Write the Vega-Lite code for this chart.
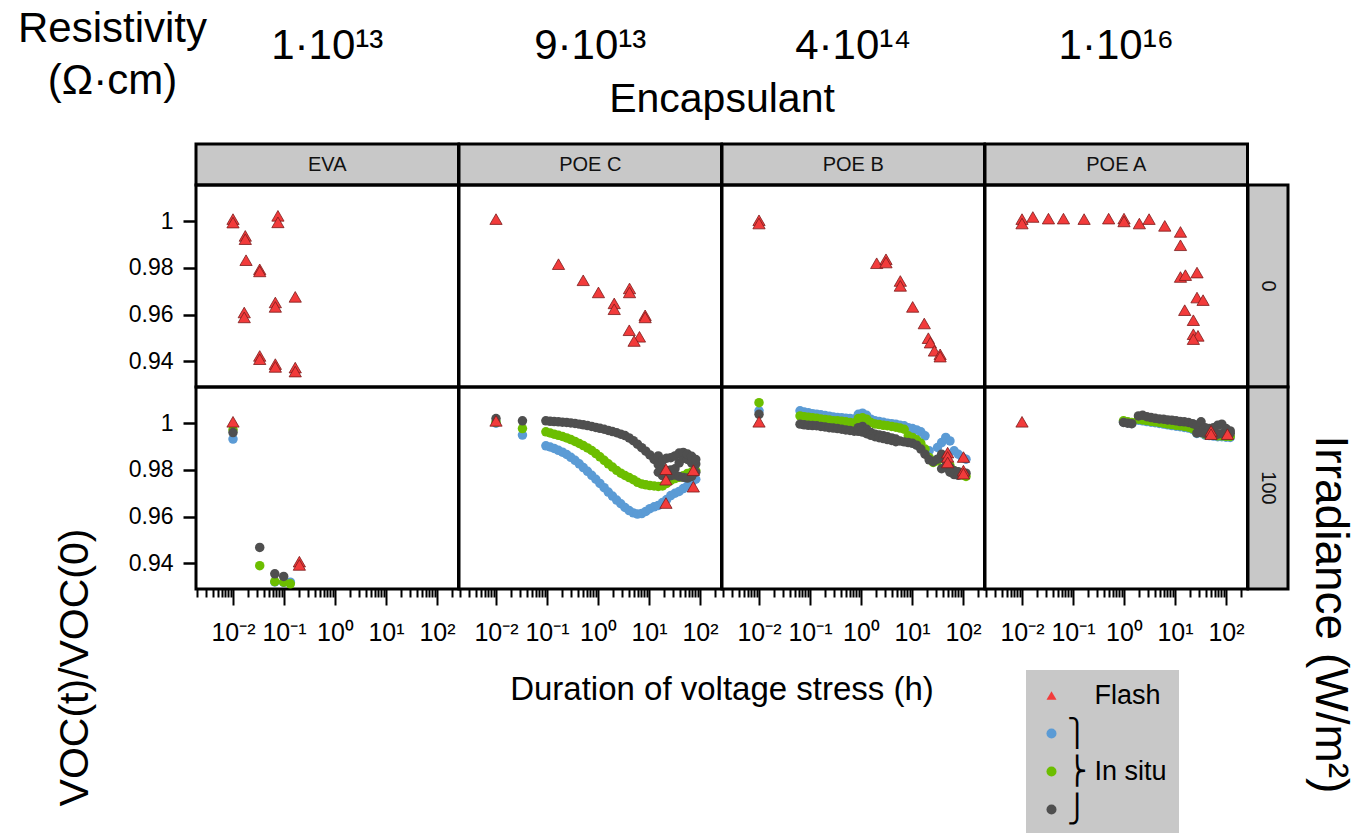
{
  "$schema": "https://vega.github.io/schema/vega-lite/v6.json",
  "background": "white",
  "padding": {"left": 15, "top": 5, "right": 5, "bottom": 0},
  "config": {
    "font": "Liberation Sans",
    "view": {"stroke": null},
    "axis": {"labelFont": "Liberation Sans", "titleFont": "Liberation Sans", "labelColor": "#000", "titleColor": "#000", "titleFontWeight": "normal", "grid": false},
    "title": {"font": "Liberation Sans", "fontWeight": "normal", "color": "#000"},
    "legend": {"labelFont": "Liberation Sans", "labelColor": "#000"}
  },
  "datasets": {
    "pts": [
      {"e":"EVA","i":0,"s":"Flash","t":0.01,"v":1.0009},
      {"e":"EVA","i":0,"s":"Flash","t":0.01,"v":0.9994},
      {"e":"EVA","i":0,"s":"Flash","t":0.076,"v":1.0023},
      {"e":"EVA","i":0,"s":"Flash","t":0.076,"v":0.9995},
      {"e":"EVA","i":0,"s":"Flash","t":0.0174,"v":0.9937},
      {"e":"EVA","i":0,"s":"Flash","t":0.0174,"v":0.9923},
      {"e":"EVA","i":0,"s":"Flash","t":0.018,"v":0.9833},
      {"e":"EVA","i":0,"s":"Flash","t":0.0334,"v":0.9794},
      {"e":"EVA","i":0,"s":"Flash","t":0.0334,"v":0.9785},
      {"e":"EVA","i":0,"s":"Flash","t":0.166,"v":0.9676},
      {"e":"EVA","i":0,"s":"Flash","t":0.0676,"v":0.9652},
      {"e":"EVA","i":0,"s":"Flash","t":0.0676,"v":0.9633},
      {"e":"EVA","i":0,"s":"Flash","t":0.0166,"v":0.9609},
      {"e":"EVA","i":0,"s":"Flash","t":0.0166,"v":0.9588},
      {"e":"EVA","i":0,"s":"Flash","t":0.0334,"v":0.9423},
      {"e":"EVA","i":0,"s":"Flash","t":0.0334,"v":0.9409},
      {"e":"EVA","i":0,"s":"Flash","t":0.0676,"v":0.9388},
      {"e":"EVA","i":0,"s":"Flash","t":0.0676,"v":0.9376},
      {"e":"EVA","i":0,"s":"Flash","t":0.166,"v":0.9373},
      {"e":"EVA","i":0,"s":"Flash","t":0.166,"v":0.9356},

      {"e":"POE C","i":0,"s":"Flash","t":0.01,"v":1.0009},
      {"e":"POE C","i":0,"s":"Flash","t":0.168,"v":0.9816},
      {"e":"POE C","i":0,"s":"Flash","t":0.513,"v":0.9747},
      {"e":"POE C","i":0,"s":"Flash","t":1.02,"v":0.9695},
      {"e":"POE C","i":0,"s":"Flash","t":2.08,"v":0.9648},
      {"e":"POE C","i":0,"s":"Flash","t":2.08,"v":0.9623},
      {"e":"POE C","i":0,"s":"Flash","t":4.15,"v":0.9712},
      {"e":"POE C","i":0,"s":"Flash","t":4.15,"v":0.9695},
      {"e":"POE C","i":0,"s":"Flash","t":8.4,"v":0.9597},
      {"e":"POE C","i":0,"s":"Flash","t":8.4,"v":0.9588},
      {"e":"POE C","i":0,"s":"Flash","t":4.1,"v":0.9533},
      {"e":"POE C","i":0,"s":"Flash","t":6.5,"v":0.9505},
      {"e":"POE C","i":0,"s":"Flash","t":5.1,"v":0.9487},

      {"e":"POE B","i":0,"s":"Flash","t":0.01,"v":1.0004},
      {"e":"POE B","i":0,"s":"Flash","t":0.01,"v":0.999},
      {"e":"POE B","i":0,"s":"Flash","t":2.03,"v":0.982},
      {"e":"POE B","i":0,"s":"Flash","t":3.09,"v":0.9837},
      {"e":"POE B","i":0,"s":"Flash","t":3.09,"v":0.9823},
      {"e":"POE B","i":0,"s":"Flash","t":5.9,"v":0.9744},
      {"e":"POE B","i":0,"s":"Flash","t":5.9,"v":0.9723},
      {"e":"POE B","i":0,"s":"Flash","t":10.3,"v":0.9633},
      {"e":"POE B","i":0,"s":"Flash","t":17.4,"v":0.9562},
      {"e":"POE B","i":0,"s":"Flash","t":20.9,"v":0.9499},
      {"e":"POE B","i":0,"s":"Flash","t":22.9,"v":0.948},
      {"e":"POE B","i":0,"s":"Flash","t":27.5,"v":0.9445},
      {"e":"POE B","i":0,"s":"Flash","t":35.6,"v":0.943},
      {"e":"POE B","i":0,"s":"Flash","t":35.6,"v":0.942},

      {"e":"POE A","i":0,"s":"Flash","t":0.01,"v":1.0009},
      {"e":"POE A","i":0,"s":"Flash","t":0.01,"v":0.999},
      {"e":"POE A","i":0,"s":"Flash","t":0.0163,"v":1.0018},
      {"e":"POE A","i":0,"s":"Flash","t":0.033,"v":1.0011},
      {"e":"POE A","i":0,"s":"Flash","t":0.065,"v":1.0011},
      {"e":"POE A","i":0,"s":"Flash","t":0.165,"v":1.0009},
      {"e":"POE A","i":0,"s":"Flash","t":0.5,"v":1.0011},
      {"e":"POE A","i":0,"s":"Flash","t":1.0,"v":1.0011},
      {"e":"POE A","i":0,"s":"Flash","t":1.0,"v":0.9999},
      {"e":"POE A","i":0,"s":"Flash","t":2.0,"v":0.999},
      {"e":"POE A","i":0,"s":"Flash","t":3.1,"v":1.0009},
      {"e":"POE A","i":0,"s":"Flash","t":6.3,"v":0.998},
      {"e":"POE A","i":0,"s":"Flash","t":12.8,"v":0.9954},
      {"e":"POE A","i":0,"s":"Flash","t":12.8,"v":0.9897},
      {"e":"POE A","i":0,"s":"Flash","t":12.8,"v":0.9761},
      {"e":"POE A","i":0,"s":"Flash","t":16,"v":0.9769},
      {"e":"POE A","i":0,"s":"Flash","t":27,"v":0.978},
      {"e":"POE A","i":0,"s":"Flash","t":27,"v":0.9673},
      {"e":"POE A","i":0,"s":"Flash","t":35.5,"v":0.9662},
      {"e":"POE A","i":0,"s":"Flash","t":15.5,"v":0.9619},
      {"e":"POE A","i":0,"s":"Flash","t":22.9,"v":0.9576},
      {"e":"POE A","i":0,"s":"Flash","t":22.9,"v":0.9516},
      {"e":"POE A","i":0,"s":"Flash","t":28.2,"v":0.9509},
      {"e":"POE A","i":0,"s":"Flash","t":22.9,"v":0.9495},

      {"e":"EVA","i":100,"s":"situ1","t":0.01,"v":0.9932},
      {"e":"EVA","i":100,"s":"situ1","t":0.066,"v":0.932},
      {"e":"EVA","i":100,"s":"situ1","t":0.0985,"v":0.9318},
      {"e":"EVA","i":100,"s":"situ1","t":0.133,"v":0.9319},
      {"e":"EVA","i":100,"s":"situ2","t":0.01,"v":0.9972},
      {"e":"EVA","i":100,"s":"situ2","t":0.0334,"v":0.939},
      {"e":"EVA","i":100,"s":"situ2","t":0.066,"v":0.9322},
      {"e":"EVA","i":100,"s":"situ2","t":0.0985,"v":0.9319},
      {"e":"EVA","i":100,"s":"situ2","t":0.133,"v":0.9312},
      {"e":"EVA","i":100,"s":"situ3","t":0.01,"v":0.996},
      {"e":"EVA","i":100,"s":"situ3","t":0.0334,"v":0.9468},
      {"e":"EVA","i":100,"s":"situ3","t":0.066,"v":0.9355},
      {"e":"EVA","i":100,"s":"situ3","t":0.0985,"v":0.9344},
      {"e":"EVA","i":100,"s":"Flash","t":0.01,"v":1.0006},
      {"e":"EVA","i":100,"s":"Flash","t":0.2,"v":0.9407},
      {"e":"EVA","i":100,"s":"Flash","t":0.2,"v":0.9393},

      {"e":"POE C","i":100,"s":"situ1","t":0.01,"v":1.0},
      {"e":"POE C","i":100,"s":"situ1","t":0.033,"v":0.9949},
      {"e":"POE C","i":100,"s":"situ1","t":0.095,"v":0.9903},
      {"e":"POE C","i":100,"s":"situ1","t":0.115,"v":0.9898},
      {"e":"POE C","i":100,"s":"situ1","t":0.138,"v":0.9892},
      {"e":"POE C","i":100,"s":"situ1","t":0.167,"v":0.9884},
      {"e":"POE C","i":100,"s":"situ1","t":0.201,"v":0.9876},
      {"e":"POE C","i":100,"s":"situ1","t":0.243,"v":0.9866},
      {"e":"POE C","i":100,"s":"situ1","t":0.293,"v":0.9854},
      {"e":"POE C","i":100,"s":"situ1","t":0.354,"v":0.9841},
      {"e":"POE C","i":100,"s":"situ1","t":0.428,"v":0.9826},
      {"e":"POE C","i":100,"s":"situ1","t":0.515,"v":0.981},
      {"e":"POE C","i":100,"s":"situ1","t":0.622,"v":0.9794},
      {"e":"POE C","i":100,"s":"situ1","t":0.752,"v":0.9777},
      {"e":"POE C","i":100,"s":"situ1","t":0.906,"v":0.976},
      {"e":"POE C","i":100,"s":"situ1","t":1.09,"v":0.9742},
      {"e":"POE C","i":100,"s":"situ1","t":1.32,"v":0.9724},
      {"e":"POE C","i":100,"s":"situ1","t":1.59,"v":0.9705},
      {"e":"POE C","i":100,"s":"situ1","t":1.92,"v":0.9688},
      {"e":"POE C","i":100,"s":"situ1","t":2.32,"v":0.9671},
      {"e":"POE C","i":100,"s":"situ1","t":2.8,"v":0.9655},
      {"e":"POE C","i":100,"s":"situ1","t":3.38,"v":0.9639},
      {"e":"POE C","i":100,"s":"situ1","t":4.08,"v":0.9626},
      {"e":"POE C","i":100,"s":"situ1","t":4.92,"v":0.9616},
      {"e":"POE C","i":100,"s":"situ1","t":5.94,"v":0.9611},
      {"e":"POE C","i":100,"s":"situ1","t":7.18,"v":0.9613},
      {"e":"POE C","i":100,"s":"situ1","t":8.65,"v":0.9622},
      {"e":"POE C","i":100,"s":"situ1","t":10.4,"v":0.9634},
      {"e":"POE C","i":100,"s":"situ1","t":12.6,"v":0.9642},
      {"e":"POE C","i":100,"s":"situ1","t":15.2,"v":0.9648},
      {"e":"POE C","i":100,"s":"situ1","t":18.4,"v":0.966},
      {"e":"POE C","i":100,"s":"situ1","t":22.2,"v":0.9673},
      {"e":"POE C","i":100,"s":"situ1","t":26.7,"v":0.969},
      {"e":"POE C","i":100,"s":"situ1","t":32.3,"v":0.97},
      {"e":"POE C","i":100,"s":"situ1","t":39,"v":0.9708},
      {"e":"POE C","i":100,"s":"situ1","t":47,"v":0.972},
      {"e":"POE C","i":100,"s":"situ1","t":56.8,"v":0.9732},
      {"e":"POE C","i":100,"s":"situ1","t":68.6,"v":0.9746},
      {"e":"POE C","i":100,"s":"situ1","t":82.6,"v":0.976},
      {"e":"POE C","i":100,"s":"situ2","t":0.01,"v":1.0005},
      {"e":"POE C","i":100,"s":"situ2","t":0.033,"v":0.9977},
      {"e":"POE C","i":100,"s":"situ2","t":0.095,"v":0.9963},
      {"e":"POE C","i":100,"s":"situ2","t":0.115,"v":0.9958},
      {"e":"POE C","i":100,"s":"situ2","t":0.138,"v":0.9953},
      {"e":"POE C","i":100,"s":"situ2","t":0.167,"v":0.9948},
      {"e":"POE C","i":100,"s":"situ2","t":0.201,"v":0.9943},
      {"e":"POE C","i":100,"s":"situ2","t":0.243,"v":0.9937},
      {"e":"POE C","i":100,"s":"situ2","t":0.293,"v":0.993},
      {"e":"POE C","i":100,"s":"situ2","t":0.354,"v":0.9922},
      {"e":"POE C","i":100,"s":"situ2","t":0.428,"v":0.9913},
      {"e":"POE C","i":100,"s":"situ2","t":0.515,"v":0.9904},
      {"e":"POE C","i":100,"s":"situ2","t":0.622,"v":0.9894},
      {"e":"POE C","i":100,"s":"situ2","t":0.752,"v":0.9883},
      {"e":"POE C","i":100,"s":"situ2","t":0.906,"v":0.987},
      {"e":"POE C","i":100,"s":"situ2","t":1.09,"v":0.9856},
      {"e":"POE C","i":100,"s":"situ2","t":1.32,"v":0.9841},
      {"e":"POE C","i":100,"s":"situ2","t":1.59,"v":0.9826},
      {"e":"POE C","i":100,"s":"situ2","t":1.92,"v":0.9812},
      {"e":"POE C","i":100,"s":"situ2","t":2.32,"v":0.9798},
      {"e":"POE C","i":100,"s":"situ2","t":2.8,"v":0.9786},
      {"e":"POE C","i":100,"s":"situ2","t":3.38,"v":0.9776},
      {"e":"POE C","i":100,"s":"situ2","t":4.08,"v":0.9767},
      {"e":"POE C","i":100,"s":"situ2","t":4.92,"v":0.9758},
      {"e":"POE C","i":100,"s":"situ2","t":5.94,"v":0.9747},
      {"e":"POE C","i":100,"s":"situ2","t":7.18,"v":0.974},
      {"e":"POE C","i":100,"s":"situ2","t":8.65,"v":0.9736},
      {"e":"POE C","i":100,"s":"situ2","t":10.4,"v":0.9733},
      {"e":"POE C","i":100,"s":"situ2","t":12.6,"v":0.9731},
      {"e":"POE C","i":100,"s":"situ2","t":15.2,"v":0.9729},
      {"e":"POE C","i":100,"s":"situ2","t":18.4,"v":0.9731},
      {"e":"POE C","i":100,"s":"situ2","t":22.2,"v":0.9742},
      {"e":"POE C","i":100,"s":"situ2","t":26.7,"v":0.9755},
      {"e":"POE C","i":100,"s":"situ2","t":32.3,"v":0.9763},
      {"e":"POE C","i":100,"s":"situ2","t":39,"v":0.9768},
      {"e":"POE C","i":100,"s":"situ2","t":47,"v":0.9775},
      {"e":"POE C","i":100,"s":"situ2","t":56.8,"v":0.9785},
      {"e":"POE C","i":100,"s":"situ2","t":68.6,"v":0.9791},
      {"e":"POE C","i":100,"s":"situ2","t":82.6,"v":0.9796},
      {"e":"POE C","i":100,"s":"situ3","t":0.01,"v":1.002},
      {"e":"POE C","i":100,"s":"situ3","t":0.033,"v":1.001},
      {"e":"POE C","i":100,"s":"situ3","t":0.095,"v":1.001},
      {"e":"POE C","i":100,"s":"situ3","t":0.115,"v":1.0008},
      {"e":"POE C","i":100,"s":"situ3","t":0.138,"v":1.0007},
      {"e":"POE C","i":100,"s":"situ3","t":0.167,"v":1.0006},
      {"e":"POE C","i":100,"s":"situ3","t":0.201,"v":1.0004},
      {"e":"POE C","i":100,"s":"situ3","t":0.243,"v":1.0003},
      {"e":"POE C","i":100,"s":"situ3","t":0.293,"v":1.0001},
      {"e":"POE C","i":100,"s":"situ3","t":0.354,"v":0.9999},
      {"e":"POE C","i":100,"s":"situ3","t":0.428,"v":0.9996},
      {"e":"POE C","i":100,"s":"situ3","t":0.515,"v":0.9993},
      {"e":"POE C","i":100,"s":"situ3","t":0.622,"v":0.999},
      {"e":"POE C","i":100,"s":"situ3","t":0.752,"v":0.9986},
      {"e":"POE C","i":100,"s":"situ3","t":0.906,"v":0.9982},
      {"e":"POE C","i":100,"s":"situ3","t":1.09,"v":0.9978},
      {"e":"POE C","i":100,"s":"situ3","t":1.32,"v":0.9974},
      {"e":"POE C","i":100,"s":"situ3","t":1.59,"v":0.9969},
      {"e":"POE C","i":100,"s":"situ3","t":1.92,"v":0.9964},
      {"e":"POE C","i":100,"s":"situ3","t":2.32,"v":0.9959},
      {"e":"POE C","i":100,"s":"situ3","t":2.8,"v":0.9953},
      {"e":"POE C","i":100,"s":"situ3","t":3.38,"v":0.9947},
      {"e":"POE C","i":100,"s":"situ3","t":4.08,"v":0.9937},
      {"e":"POE C","i":100,"s":"situ3","t":4.92,"v":0.9925},
      {"e":"POE C","i":100,"s":"situ3","t":5.94,"v":0.991},
      {"e":"POE C","i":100,"s":"situ3","t":7.18,"v":0.9895},
      {"e":"POE C","i":100,"s":"situ3","t":8.65,"v":0.988},
      {"e":"POE C","i":100,"s":"situ3","t":10.4,"v":0.9864},
      {"e":"POE C","i":100,"s":"situ3","t":12.6,"v":0.9845},
      {"e":"POE C","i":100,"s":"situ3","t":15.2,"v":0.9822},
      {"e":"POE C","i":100,"s":"situ3","t":18.4,"v":0.9805},
      {"e":"POE C","i":100,"s":"situ3","t":22.2,"v":0.9797},
      {"e":"POE C","i":100,"s":"situ3","t":26.7,"v":0.98},
      {"e":"POE C","i":100,"s":"situ3","t":32.3,"v":0.9805},
      {"e":"POE C","i":100,"s":"situ3","t":39,"v":0.983},
      {"e":"POE C","i":100,"s":"situ3","t":47,"v":0.985},
      {"e":"POE C","i":100,"s":"situ3","t":56.8,"v":0.9845},
      {"e":"POE C","i":100,"s":"situ3","t":68.6,"v":0.983},
      {"e":"POE C","i":100,"s":"situ3","t":82.6,"v":0.9825},
      {"e":"POE C","i":100,"s":"situ3","t":15.2,"v":0.986},
      {"e":"POE C","i":100,"s":"situ3","t":18.4,"v":0.984},
      {"e":"POE C","i":100,"s":"situ3","t":22.2,"v":0.985},
      {"e":"POE C","i":100,"s":"situ3","t":26.7,"v":0.9852},
      {"e":"POE C","i":100,"s":"situ3","t":32.3,"v":0.986},
      {"e":"POE C","i":100,"s":"situ3","t":39,"v":0.9872},
      {"e":"POE C","i":100,"s":"situ3","t":47,"v":0.9875},
      {"e":"POE C","i":100,"s":"situ3","t":56.8,"v":0.9868},
      {"e":"POE C","i":100,"s":"situ3","t":68.6,"v":0.9858},
      {"e":"POE C","i":100,"s":"situ3","t":82.6,"v":0.9845},
      {"e":"POE C","i":100,"s":"situ3","t":15.2,"v":0.979},
      {"e":"POE C","i":100,"s":"situ3","t":18.4,"v":0.9775},
      {"e":"POE C","i":100,"s":"situ3","t":22.2,"v":0.977},
      {"e":"POE C","i":100,"s":"situ3","t":26.7,"v":0.9775},
      {"e":"POE C","i":100,"s":"situ3","t":32.3,"v":0.9778},
      {"e":"POE C","i":100,"s":"situ3","t":39,"v":0.9772},
      {"e":"POE C","i":100,"s":"situ3","t":47,"v":0.9768},
      {"e":"POE C","i":100,"s":"situ3","t":56.8,"v":0.9765},
      {"e":"POE C","i":100,"s":"situ3","t":68.6,"v":0.9772},
      {"e":"POE C","i":100,"s":"situ3","t":82.6,"v":0.979},
      {"e":"POE C","i":100,"s":"Flash","t":0.01,"v":1.001},
      {"e":"POE C","i":100,"s":"Flash","t":21.5,"v":0.9803},
      {"e":"POE C","i":100,"s":"Flash","t":21.5,"v":0.9758},
      {"e":"POE C","i":100,"s":"Flash","t":21.5,"v":0.9658},
      {"e":"POE C","i":100,"s":"Flash","t":74,"v":0.9799},
      {"e":"POE C","i":100,"s":"Flash","t":74,"v":0.9728},

      {"e":"POE B","i":100,"s":"situ1","t":0.01,"v":1.0053},
      {"e":"POE B","i":100,"s":"situ1","t":0.0637,"v":1.0053},
      {"e":"POE B","i":100,"s":"situ1","t":0.0769,"v":1.0048},
      {"e":"POE B","i":100,"s":"situ1","t":0.0927,"v":1.0045},
      {"e":"POE B","i":100,"s":"situ1","t":0.112,"v":1.0041},
      {"e":"POE B","i":100,"s":"situ1","t":0.135,"v":1.0038},
      {"e":"POE B","i":100,"s":"situ1","t":0.163,"v":1.0036},
      {"e":"POE B","i":100,"s":"situ1","t":0.197,"v":1.0033},
      {"e":"POE B","i":100,"s":"situ1","t":0.238,"v":1.003},
      {"e":"POE B","i":100,"s":"situ1","t":0.286,"v":1.0027},
      {"e":"POE B","i":100,"s":"situ1","t":0.346,"v":1.0024},
      {"e":"POE B","i":100,"s":"situ1","t":0.418,"v":1.0023},
      {"e":"POE B","i":100,"s":"situ1","t":0.504,"v":1.0021},
      {"e":"POE B","i":100,"s":"situ1","t":0.608,"v":1.002},
      {"e":"POE B","i":100,"s":"situ1","t":0.735,"v":1.0018},
      {"e":"POE B","i":100,"s":"situ1","t":0.885,"v":1.0038},
      {"e":"POE B","i":100,"s":"situ1","t":1.07,"v":1.0043},
      {"e":"POE B","i":100,"s":"situ1","t":1.29,"v":1.0034},
      {"e":"POE B","i":100,"s":"situ1","t":1.56,"v":1.0017},
      {"e":"POE B","i":100,"s":"situ1","t":1.88,"v":1.001},
      {"e":"POE B","i":100,"s":"situ1","t":2.27,"v":1.0007},
      {"e":"POE B","i":100,"s":"situ1","t":2.74,"v":1.0004},
      {"e":"POE B","i":100,"s":"situ1","t":3.3,"v":1.0},
      {"e":"POE B","i":100,"s":"situ1","t":3.99,"v":0.9998},
      {"e":"POE B","i":100,"s":"situ1","t":4.81,"v":0.9996},
      {"e":"POE B","i":100,"s":"situ1","t":5.81,"v":0.9991},
      {"e":"POE B","i":100,"s":"situ1","t":7.02,"v":0.9989},
      {"e":"POE B","i":100,"s":"situ1","t":8.45,"v":0.9981},
      {"e":"POE B","i":100,"s":"situ1","t":10.2,"v":0.9977},
      {"e":"POE B","i":100,"s":"situ1","t":12.3,"v":0.9971},
      {"e":"POE B","i":100,"s":"situ1","t":14.9,"v":0.9963},
      {"e":"POE B","i":100,"s":"situ1","t":18,"v":0.9946},
      {"e":"POE B","i":100,"s":"situ1","t":21.7,"v":0.9882},
      {"e":"POE B","i":100,"s":"situ1","t":26.1,"v":0.9839},
      {"e":"POE B","i":100,"s":"situ1","t":31.6,"v":0.9896},
      {"e":"POE B","i":100,"s":"situ1","t":38.1,"v":0.9917},
      {"e":"POE B","i":100,"s":"situ1","t":45.9,"v":0.9939},
      {"e":"POE B","i":100,"s":"situ1","t":55.5,"v":0.9924},
      {"e":"POE B","i":100,"s":"situ1","t":67,"v":0.9882},
      {"e":"POE B","i":100,"s":"situ1","t":80.7,"v":0.9867},
      {"e":"POE B","i":100,"s":"situ1","t":97.5,"v":0.9853},
      {"e":"POE B","i":100,"s":"situ1","t":114.5,"v":0.9846},
      {"e":"POE B","i":100,"s":"situ2","t":0.01,"v":1.0088},
      {"e":"POE B","i":100,"s":"situ2","t":0.0637,"v":1.0031},
      {"e":"POE B","i":100,"s":"situ2","t":0.0769,"v":1.0028},
      {"e":"POE B","i":100,"s":"situ2","t":0.0927,"v":1.0026},
      {"e":"POE B","i":100,"s":"situ2","t":0.112,"v":1.0023},
      {"e":"POE B","i":100,"s":"situ2","t":0.135,"v":1.0021},
      {"e":"POE B","i":100,"s":"situ2","t":0.163,"v":1.0018},
      {"e":"POE B","i":100,"s":"situ2","t":0.197,"v":1.0016},
      {"e":"POE B","i":100,"s":"situ2","t":0.238,"v":1.0014},
      {"e":"POE B","i":100,"s":"situ2","t":0.286,"v":1.0011},
      {"e":"POE B","i":100,"s":"situ2","t":0.346,"v":1.001},
      {"e":"POE B","i":100,"s":"situ2","t":0.418,"v":1.0008},
      {"e":"POE B","i":100,"s":"situ2","t":0.504,"v":1.0006},
      {"e":"POE B","i":100,"s":"situ2","t":0.608,"v":1.0003},
      {"e":"POE B","i":100,"s":"situ2","t":0.735,"v":1.0001},
      {"e":"POE B","i":100,"s":"situ2","t":0.885,"v":1.002},
      {"e":"POE B","i":100,"s":"situ2","t":1.07,"v":1.0023},
      {"e":"POE B","i":100,"s":"situ2","t":1.29,"v":1.0017},
      {"e":"POE B","i":100,"s":"situ2","t":1.56,"v":1.0003},
      {"e":"POE B","i":100,"s":"situ2","t":1.88,"v":0.9997},
      {"e":"POE B","i":100,"s":"situ2","t":2.27,"v":0.9994},
      {"e":"POE B","i":100,"s":"situ2","t":2.74,"v":0.9991},
      {"e":"POE B","i":100,"s":"situ2","t":3.3,"v":0.9989},
      {"e":"POE B","i":100,"s":"situ2","t":3.99,"v":0.9986},
      {"e":"POE B","i":100,"s":"situ2","t":4.81,"v":0.9983},
      {"e":"POE B","i":100,"s":"situ2","t":5.81,"v":0.9979},
      {"e":"POE B","i":100,"s":"situ2","t":7.02,"v":0.9974},
      {"e":"POE B","i":100,"s":"situ2","t":8.45,"v":0.9946},
      {"e":"POE B","i":100,"s":"situ2","t":10.2,"v":0.9939},
      {"e":"POE B","i":100,"s":"situ2","t":12.3,"v":0.9929},
      {"e":"POE B","i":100,"s":"situ2","t":14.9,"v":0.9914},
      {"e":"POE B","i":100,"s":"situ2","t":18,"v":0.9889},
      {"e":"POE B","i":100,"s":"situ2","t":21.7,"v":0.9853},
      {"e":"POE B","i":100,"s":"situ2","t":26.1,"v":0.9832},
      {"e":"POE B","i":100,"s":"situ2","t":31.6,"v":0.9839},
      {"e":"POE B","i":100,"s":"situ2","t":38.1,"v":0.9853},
      {"e":"POE B","i":100,"s":"situ2","t":45.9,"v":0.9839},
      {"e":"POE B","i":100,"s":"situ2","t":55.5,"v":0.9818},
      {"e":"POE B","i":100,"s":"situ2","t":67,"v":0.9796},
      {"e":"POE B","i":100,"s":"situ2","t":80.7,"v":0.9786},
      {"e":"POE B","i":100,"s":"situ2","t":97.5,"v":0.9778},
      {"e":"POE B","i":100,"s":"situ2","t":114.5,"v":0.9772},
      {"e":"POE B","i":100,"s":"situ3","t":0.01,"v":1.0038},
      {"e":"POE B","i":100,"s":"situ3","t":0.0637,"v":0.9996},
      {"e":"POE B","i":100,"s":"situ3","t":0.0769,"v":0.9993},
      {"e":"POE B","i":100,"s":"situ3","t":0.0927,"v":0.9991},
      {"e":"POE B","i":100,"s":"situ3","t":0.112,"v":0.999},
      {"e":"POE B","i":100,"s":"situ3","t":0.135,"v":0.9989},
      {"e":"POE B","i":100,"s":"situ3","t":0.163,"v":0.9986},
      {"e":"POE B","i":100,"s":"situ3","t":0.197,"v":0.9984},
      {"e":"POE B","i":100,"s":"situ3","t":0.238,"v":0.9981},
      {"e":"POE B","i":100,"s":"situ3","t":0.286,"v":0.9979},
      {"e":"POE B","i":100,"s":"situ3","t":0.346,"v":0.9977},
      {"e":"POE B","i":100,"s":"situ3","t":0.418,"v":0.9974},
      {"e":"POE B","i":100,"s":"situ3","t":0.504,"v":0.9971},
      {"e":"POE B","i":100,"s":"situ3","t":0.608,"v":0.9969},
      {"e":"POE B","i":100,"s":"situ3","t":0.735,"v":0.9966},
      {"e":"POE B","i":100,"s":"situ3","t":0.885,"v":0.9981},
      {"e":"POE B","i":100,"s":"situ3","t":1.07,"v":0.9986},
      {"e":"POE B","i":100,"s":"situ3","t":1.29,"v":0.9974},
      {"e":"POE B","i":100,"s":"situ3","t":1.56,"v":0.996},
      {"e":"POE B","i":100,"s":"situ3","t":1.88,"v":0.9953},
      {"e":"POE B","i":100,"s":"situ3","t":2.27,"v":0.9949},
      {"e":"POE B","i":100,"s":"situ3","t":2.74,"v":0.9946},
      {"e":"POE B","i":100,"s":"situ3","t":3.3,"v":0.9942},
      {"e":"POE B","i":100,"s":"situ3","t":3.99,"v":0.9937},
      {"e":"POE B","i":100,"s":"situ3","t":4.81,"v":0.9932},
      {"e":"POE B","i":100,"s":"situ3","t":5.81,"v":0.9924},
      {"e":"POE B","i":100,"s":"situ3","t":7.02,"v":0.992},
      {"e":"POE B","i":100,"s":"situ3","t":8.45,"v":0.9917},
      {"e":"POE B","i":100,"s":"situ3","t":10.2,"v":0.9914},
      {"e":"POE B","i":100,"s":"situ3","t":12.3,"v":0.9906},
      {"e":"POE B","i":100,"s":"situ3","t":14.9,"v":0.9889},
      {"e":"POE B","i":100,"s":"situ3","t":18,"v":0.9867},
      {"e":"POE B","i":100,"s":"situ3","t":21.7,"v":0.9843},
      {"e":"POE B","i":100,"s":"situ3","t":26.1,"v":0.9835},
      {"e":"POE B","i":100,"s":"situ3","t":31.6,"v":0.9846},
      {"e":"POE B","i":100,"s":"situ3","t":38.1,"v":0.9867},
      {"e":"POE B","i":100,"s":"situ3","t":45.9,"v":0.9839},
      {"e":"POE B","i":100,"s":"situ3","t":55.5,"v":0.981},
      {"e":"POE B","i":100,"s":"situ3","t":67,"v":0.9796},
      {"e":"POE B","i":100,"s":"situ3","t":80.7,"v":0.9792},
      {"e":"POE B","i":100,"s":"situ3","t":97.5,"v":0.9786},
      {"e":"POE B","i":100,"s":"situ3","t":114.5,"v":0.9786},
      {"e":"POE B","i":100,"s":"situ3","t":0.885,"v":0.9965},
      {"e":"POE B","i":100,"s":"situ3","t":1.07,"v":0.9962},
      {"e":"POE B","i":100,"s":"situ3","t":1.29,"v":0.9955},
      {"e":"POE B","i":100,"s":"situ3","t":1.56,"v":0.9948},
      {"e":"POE B","i":100,"s":"situ3","t":1.88,"v":0.9942},
      {"e":"POE B","i":100,"s":"situ3","t":2.27,"v":0.9938},
      {"e":"POE B","i":100,"s":"situ3","t":2.74,"v":0.9934},
      {"e":"POE B","i":100,"s":"situ3","t":3.3,"v":0.993},
      {"e":"POE B","i":100,"s":"situ3","t":3.99,"v":0.9926},
      {"e":"POE B","i":100,"s":"situ3","t":4.81,"v":0.9921},
      {"e":"POE B","i":100,"s":"situ3","t":38.1,"v":0.9805},
      {"e":"POE B","i":100,"s":"situ3","t":45.9,"v":0.981},
      {"e":"POE B","i":100,"s":"situ3","t":55.5,"v":0.979},
      {"e":"POE B","i":100,"s":"situ3","t":67,"v":0.978},
      {"e":"POE B","i":100,"s":"situ3","t":80.7,"v":0.9777},
      {"e":"POE B","i":100,"s":"Flash","t":0.01,"v":1.0006},
      {"e":"POE B","i":100,"s":"Flash","t":50,"v":0.9874},
      {"e":"POE B","i":100,"s":"Flash","t":50,"v":0.9856},
      {"e":"POE B","i":100,"s":"Flash","t":50,"v":0.9832},
      {"e":"POE B","i":100,"s":"Flash","t":102,"v":0.9855},
      {"e":"POE B","i":100,"s":"Flash","t":102,"v":0.9797},
      {"e":"POE B","i":100,"s":"Flash","t":102,"v":0.9784},

      {"e":"POE A","i":100,"s":"situ1","t":0.977,"v":1.0006},
      {"e":"POE A","i":100,"s":"situ1","t":1.18,"v":1.0002},
      {"e":"POE A","i":100,"s":"situ1","t":1.42,"v":0.9999},
      {"e":"POE A","i":100,"s":"situ1","t":1.92,"v":1.0013},
      {"e":"POE A","i":100,"s":"situ1","t":2.32,"v":1.001},
      {"e":"POE A","i":100,"s":"situ1","t":2.8,"v":1.0007},
      {"e":"POE A","i":100,"s":"situ1","t":3.38,"v":1.0004},
      {"e":"POE A","i":100,"s":"situ1","t":4.08,"v":1.0002},
      {"e":"POE A","i":100,"s":"situ1","t":4.93,"v":0.9999},
      {"e":"POE A","i":100,"s":"situ1","t":5.95,"v":0.9996},
      {"e":"POE A","i":100,"s":"situ1","t":7.18,"v":0.9993},
      {"e":"POE A","i":100,"s":"situ1","t":8.67,"v":0.999},
      {"e":"POE A","i":100,"s":"situ1","t":10.5,"v":0.9987},
      {"e":"POE A","i":100,"s":"situ1","t":12.6,"v":0.9985},
      {"e":"POE A","i":100,"s":"situ1","t":15.2,"v":0.9982},
      {"e":"POE A","i":100,"s":"situ1","t":18.4,"v":0.9979},
      {"e":"POE A","i":100,"s":"situ1","t":22.2,"v":0.9973},
      {"e":"POE A","i":100,"s":"situ1","t":26.8,"v":0.9956},
      {"e":"POE A","i":100,"s":"situ1","t":32.4,"v":0.9959},
      {"e":"POE A","i":100,"s":"situ1","t":39.1,"v":0.9949},
      {"e":"POE A","i":100,"s":"situ1","t":47.1,"v":0.9947},
      {"e":"POE A","i":100,"s":"situ1","t":56.9,"v":0.9945},
      {"e":"POE A","i":100,"s":"situ1","t":68.7,"v":0.9942},
      {"e":"POE A","i":100,"s":"situ1","t":82.8,"v":0.9942},
      {"e":"POE A","i":100,"s":"situ1","t":100,"v":0.994},
      {"e":"POE A","i":100,"s":"situ1","t":121,"v":0.9939},
      {"e":"POE A","i":100,"s":"situ2","t":0.977,"v":1.001},
      {"e":"POE A","i":100,"s":"situ2","t":1.18,"v":1.0006},
      {"e":"POE A","i":100,"s":"situ2","t":1.42,"v":1.0003},
      {"e":"POE A","i":100,"s":"situ2","t":1.92,"v":1.0017},
      {"e":"POE A","i":100,"s":"situ2","t":2.32,"v":1.0014},
      {"e":"POE A","i":100,"s":"situ2","t":2.8,"v":1.0011},
      {"e":"POE A","i":100,"s":"situ2","t":3.38,"v":1.0008},
      {"e":"POE A","i":100,"s":"situ2","t":4.08,"v":1.0006},
      {"e":"POE A","i":100,"s":"situ2","t":4.93,"v":1.0003},
      {"e":"POE A","i":100,"s":"situ2","t":5.95,"v":1.0},
      {"e":"POE A","i":100,"s":"situ2","t":7.18,"v":0.9997},
      {"e":"POE A","i":100,"s":"situ2","t":8.67,"v":0.9994},
      {"e":"POE A","i":100,"s":"situ2","t":10.5,"v":0.9991},
      {"e":"POE A","i":100,"s":"situ2","t":12.6,"v":0.9989},
      {"e":"POE A","i":100,"s":"situ2","t":15.2,"v":0.9986},
      {"e":"POE A","i":100,"s":"situ2","t":18.4,"v":0.9983},
      {"e":"POE A","i":100,"s":"situ2","t":22.2,"v":0.9977},
      {"e":"POE A","i":100,"s":"situ2","t":26.8,"v":0.996},
      {"e":"POE A","i":100,"s":"situ2","t":32.4,"v":0.9963},
      {"e":"POE A","i":100,"s":"situ2","t":39.1,"v":0.9953},
      {"e":"POE A","i":100,"s":"situ2","t":47.1,"v":0.9951},
      {"e":"POE A","i":100,"s":"situ2","t":56.9,"v":0.9949},
      {"e":"POE A","i":100,"s":"situ2","t":68.7,"v":0.9946},
      {"e":"POE A","i":100,"s":"situ2","t":82.8,"v":0.9946},
      {"e":"POE A","i":100,"s":"situ2","t":100,"v":0.9944},
      {"e":"POE A","i":100,"s":"situ2","t":121,"v":0.9943},
      {"e":"POE A","i":100,"s":"situ3","t":0.977,"v":1.0003},
      {"e":"POE A","i":100,"s":"situ3","t":1.18,"v":1.0},
      {"e":"POE A","i":100,"s":"situ3","t":1.42,"v":0.9998},
      {"e":"POE A","i":100,"s":"situ3","t":1.92,"v":1.0031},
      {"e":"POE A","i":100,"s":"situ3","t":2.32,"v":1.0034},
      {"e":"POE A","i":100,"s":"situ3","t":2.8,"v":1.0028},
      {"e":"POE A","i":100,"s":"situ3","t":3.38,"v":1.0024},
      {"e":"POE A","i":100,"s":"situ3","t":4.08,"v":1.0021},
      {"e":"POE A","i":100,"s":"situ3","t":4.93,"v":1.0018},
      {"e":"POE A","i":100,"s":"situ3","t":5.95,"v":1.0017},
      {"e":"POE A","i":100,"s":"situ3","t":7.18,"v":1.0014},
      {"e":"POE A","i":100,"s":"situ3","t":8.67,"v":1.0013},
      {"e":"POE A","i":100,"s":"situ3","t":10.5,"v":1.001},
      {"e":"POE A","i":100,"s":"situ3","t":12.6,"v":1.0007},
      {"e":"POE A","i":100,"s":"situ3","t":15.2,"v":1.0006},
      {"e":"POE A","i":100,"s":"situ3","t":18.4,"v":1.0003},
      {"e":"POE A","i":100,"s":"situ3","t":22.2,"v":0.9998},
      {"e":"POE A","i":100,"s":"situ3","t":26.8,"v":0.9991},
      {"e":"POE A","i":100,"s":"situ3","t":32.4,"v":1.0006},
      {"e":"POE A","i":100,"s":"situ3","t":39.1,"v":0.9981},
      {"e":"POE A","i":100,"s":"situ3","t":47.1,"v":0.9977},
      {"e":"POE A","i":100,"s":"situ3","t":56.9,"v":0.9981},
      {"e":"POE A","i":100,"s":"situ3","t":68.7,"v":0.9991},
      {"e":"POE A","i":100,"s":"situ3","t":82.8,"v":0.9996},
      {"e":"POE A","i":100,"s":"situ3","t":100,"v":0.9977},
      {"e":"POE A","i":100,"s":"situ3","t":121,"v":0.9967},
      {"e":"POE A","i":100,"s":"situ3","t":26.8,"v":0.9958},
      {"e":"POE A","i":100,"s":"situ3","t":32.4,"v":0.996},
      {"e":"POE A","i":100,"s":"situ3","t":39.1,"v":0.9955},
      {"e":"POE A","i":100,"s":"situ3","t":47.1,"v":0.9953},
      {"e":"POE A","i":100,"s":"situ3","t":56.9,"v":0.995},
      {"e":"POE A","i":100,"s":"situ3","t":68.7,"v":0.9953},
      {"e":"POE A","i":100,"s":"situ3","t":82.8,"v":0.9955},
      {"e":"POE A","i":100,"s":"situ3","t":100,"v":0.9955},
      {"e":"POE A","i":100,"s":"situ3","t":121,"v":0.9957},
      {"e":"POE A","i":100,"s":"Flash","t":0.01,"v":1.0006},
      {"e":"POE A","i":100,"s":"Flash","t":51,"v":0.9967},
      {"e":"POE A","i":100,"s":"Flash","t":51,"v":0.9953},
      {"e":"POE A","i":100,"s":"Flash","t":107,"v":0.9953}
    ]
  },
  "resolve": {"scale": {"color": "independent", "shape": "independent"}},
  "bounds": "flush",
  "align": "each",
  "spacing": 0,
  "columns": 5,
  "concat": [
    {"width": 262.5, "height": 41, "view": {"fill": "#c8c8c8", "stroke": "#000", "strokeWidth": 3},
     "title": {"text": "1·10¹³", "fontSize": 42, "offset": 43, "baseline": "alphabetic", "anchor": "middle"},
     "data": {"values": [{"lab": "EVA"}]},
     "mark": {"type": "text", "fontSize": 20, "color": "#111"},
     "encoding": {"text": {"field": "lab", "type": "nominal"}}},
    {"width": 262.5, "height": 41, "view": {"fill": "#c8c8c8", "stroke": "#000", "strokeWidth": 3},
     "title": {"text": "9·10¹³", "fontSize": 42, "offset": 43, "baseline": "alphabetic", "anchor": "middle"},
     "data": {"values": [{"lab": "POE C"}]},
     "mark": {"type": "text", "fontSize": 20, "color": "#111"},
     "encoding": {"text": {"field": "lab", "type": "nominal"}}},
    {"width": 262.5, "height": 41, "view": {"fill": "#c8c8c8", "stroke": "#000", "strokeWidth": 3},
     "title": {"text": "4·10¹⁴", "fontSize": 42, "offset": 43, "baseline": "alphabetic", "anchor": "middle"},
     "data": {"values": [{"lab": "POE B"}]},
     "mark": {"type": "text", "fontSize": 20, "color": "#111"},
     "encoding": {"text": {"field": "lab", "type": "nominal"}}},
    {"width": 262.5, "height": 41, "view": {"fill": "#c8c8c8", "stroke": "#000", "strokeWidth": 3},
     "title": {"text": "1·10¹⁶", "fontSize": 42, "offset": 43, "baseline": "alphabetic", "anchor": "middle"},
     "data": {"values": [{"lab": "POE A"}]},
     "mark": {"type": "text", "fontSize": 20, "color": "#111"},
     "encoding": {"text": {"field": "lab", "type": "nominal"}}},
    {"width": 40, "height": 41, "data": {"values": []}, "mark": "point", "encoding": {}},

    {"width": 262.5, "height": 202, "view": {"stroke": "#000", "strokeWidth": 3},
     "data": {"name": "pts"},
     "transform": [{"filter": "datum.e == 'EVA' && datum.i == 0"}],
     "encoding": {
       "x": {"field": "t", "type": "quantitative", "scale": {"type": "log", "domain": [0.00188, 264], "nice": false}, "axis": null},
       "y": {"field": "v", "type": "quantitative", "scale": {"domain": [0.929, 1.0155], "nice": false, "zero": false},
             "axis": {"values": [0.94, 0.96, 0.98, 1], "labelExpr": "datum.value == 1 ? '1' : format(datum.value, '.2f')", "tickSize": 13, "tickWidth": 2.5, "tickColor": "#000", "domain": false, "labelFontSize": 23, "labelPadding": 10,
                      "title": ["Resistivity", "(Ω·cm)"], "titleFontSize": 42, "titleAngle": 0, "titleX": -84, "titleY": -157, "titleAlign": "center", "titleBaseline": "middle", "titleLineHeight": 52}},
       "color": {"field": "s", "type": "nominal", "scale": {"domain": ["Flash", "situ1", "situ2", "situ3"], "range": ["#F23B3B", "#5B9BD5", "#6CBE00", "#4F4F4F"]}, "legend": null},
       "shape": {"field": "s", "type": "nominal", "scale": {"domain": ["Flash", "situ1", "situ2", "situ3"], "range": ["triangle-up", "circle", "circle", "circle"]}, "legend": null}
     },
     "layer": [
       {"transform": [{"filter": "datum.s != 'Flash'"}], "mark": {"type": "point", "filled": true, "size": 90, "opacity": 1}},
       {"transform": [{"filter": "datum.s == 'Flash'"}], "mark": {"type": "point", "filled": true, "size": 150, "opacity": 1, "stroke": "#7a1c1c", "strokeWidth": 0.8}}
     ]},
    {"width": 262.5, "height": 202, "view": {"stroke": "#000", "strokeWidth": 3},
     "data": {"name": "pts"},
     "transform": [{"filter": "datum.e == 'POE C' && datum.i == 0"}],
     "encoding": {
       "x": {"field": "t", "type": "quantitative", "scale": {"type": "log", "domain": [0.00188, 264], "nice": false},
             "axis": {"orient": "top", "labels": false, "ticks": false, "domain": false, "title": "Encapsulant", "titleFontSize": 41, "titleX": 262.5, "titleY": -86, "titleAlign": "center", "titleBaseline": "middle"}},
       "y": {"field": "v", "type": "quantitative", "scale": {"domain": [0.929, 1.0155], "nice": false, "zero": false}, "axis": null},
       "color": {"field": "s", "type": "nominal", "scale": {"domain": ["Flash", "situ1", "situ2", "situ3"], "range": ["#F23B3B", "#5B9BD5", "#6CBE00", "#4F4F4F"]}, "legend": null},
       "shape": {"field": "s", "type": "nominal", "scale": {"domain": ["Flash", "situ1", "situ2", "situ3"], "range": ["triangle-up", "circle", "circle", "circle"]}, "legend": null}
     },
     "layer": [
       {"transform": [{"filter": "datum.s != 'Flash'"}], "mark": {"type": "point", "filled": true, "size": 90, "opacity": 1}},
       {"transform": [{"filter": "datum.s == 'Flash'"}], "mark": {"type": "point", "filled": true, "size": 150, "opacity": 1, "stroke": "#7a1c1c", "strokeWidth": 0.8}}
     ]},
    {"width": 262.5, "height": 202, "view": {"stroke": "#000", "strokeWidth": 3},
     "data": {"name": "pts"},
     "transform": [{"filter": "datum.e == 'POE B' && datum.i == 0"}],
     "encoding": {
       "x": {"field": "t", "type": "quantitative", "scale": {"type": "log", "domain": [0.00188, 264], "nice": false}, "axis": null},
       "y": {"field": "v", "type": "quantitative", "scale": {"domain": [0.929, 1.0155], "nice": false, "zero": false}, "axis": null},
       "color": {"field": "s", "type": "nominal", "scale": {"domain": ["Flash", "situ1", "situ2", "situ3"], "range": ["#F23B3B", "#5B9BD5", "#6CBE00", "#4F4F4F"]}, "legend": null},
       "shape": {"field": "s", "type": "nominal", "scale": {"domain": ["Flash", "situ1", "situ2", "situ3"], "range": ["triangle-up", "circle", "circle", "circle"]}, "legend": null}
     },
     "layer": [
       {"transform": [{"filter": "datum.s != 'Flash'"}], "mark": {"type": "point", "filled": true, "size": 90, "opacity": 1}},
       {"transform": [{"filter": "datum.s == 'Flash'"}], "mark": {"type": "point", "filled": true, "size": 150, "opacity": 1, "stroke": "#7a1c1c", "strokeWidth": 0.8}}
     ]},
    {"width": 262.5, "height": 202, "view": {"stroke": "#000", "strokeWidth": 3},
     "data": {"name": "pts"},
     "transform": [{"filter": "datum.e == 'POE A' && datum.i == 0"}],
     "encoding": {
       "x": {"field": "t", "type": "quantitative", "scale": {"type": "log", "domain": [0.00188, 264], "nice": false}, "axis": null},
       "y": {"field": "v", "type": "quantitative", "scale": {"domain": [0.929, 1.0155], "nice": false, "zero": false}, "axis": null},
       "color": {"field": "s", "type": "nominal", "scale": {"domain": ["Flash", "situ1", "situ2", "situ3"], "range": ["#F23B3B", "#5B9BD5", "#6CBE00", "#4F4F4F"]}, "legend": null},
       "shape": {"field": "s", "type": "nominal", "scale": {"domain": ["Flash", "situ1", "situ2", "situ3"], "range": ["triangle-up", "circle", "circle", "circle"]}, "legend": null}
     },
     "layer": [
       {"transform": [{"filter": "datum.s != 'Flash'"}], "mark": {"type": "point", "filled": true, "size": 90, "opacity": 1}},
       {"transform": [{"filter": "datum.s == 'Flash'"}], "mark": {"type": "point", "filled": true, "size": 150, "opacity": 1, "stroke": "#7a1c1c", "strokeWidth": 0.8}}
     ]},
    {"width": 40, "height": 202, "view": {"fill": "#c8c8c8", "stroke": "#000", "strokeWidth": 3},
     "data": {"values": [{"lab": "0"}]},
     "mark": {"type": "text", "fontSize": 20, "angle": 90, "color": "#111"},
     "encoding": {"text": {"field": "lab", "type": "nominal"}}},

    {"width": 262.5, "height": 202, "view": {"stroke": "#000", "strokeWidth": 3},
     "data": {"name": "pts"},
     "transform": [{"filter": "datum.e == 'EVA' && datum.i == 100"}],
     "encoding": {
       "x": {"field": "t", "type": "quantitative", "scale": {"type": "log", "domain": [0.00188, 264], "nice": false},
             "axis": {"values": [0.002,0.003,0.004,0.005,0.006,0.007,0.008,0.009,0.01,0.02,0.03,0.04,0.05,0.06,0.07,0.08,0.09,0.1,0.2,0.3,0.4,0.5,0.6,0.7,0.8,0.9,1,2,3,4,5,6,7,8,9,10,20,30,40,50,60,70,80,90,100,200],
                      "labelExpr": "datum.value == 0.01 ? '10⁻²' : datum.value == 0.1 ? '10⁻¹' : datum.value == 1 ? '10⁰' : datum.value == 10 ? '10¹' : datum.value == 100 ? '10²' : ''",
                      "tickSize": {"condition": {"test": "indexof([0.01,0.1,1,10,100], datum.value) >= 0", "value": 16}, "value": 8},
                      "tickWidth": 2, "tickColor": "#000", "domain": false, "labelFontSize": 25, "labelPadding": 15, "labelOverlap": false, "labelBound": false, "labelFlush": false, "title": null}},
       "y": {"field": "v", "type": "quantitative", "scale": {"domain": [0.929, 1.0155], "nice": false, "zero": false},
             "axis": {"values": [0.94, 0.96, 0.98, 1], "labelExpr": "datum.value == 1 ? '1' : format(datum.value, '.2f')", "tickSize": 13, "tickWidth": 2.5, "tickColor": "#000", "domain": false, "labelFontSize": 23, "labelPadding": 10,
                      "title": "VOC(t)/VOC(0)", "titleFontSize": 41, "titleAngle": 270, "titleX": -121, "titleY": 280, "titleAlign": "center", "titleBaseline": "middle"}},
       "color": {"field": "s", "type": "nominal", "scale": {"domain": ["Flash", "situ1", "situ2", "situ3"], "range": ["#F23B3B", "#5B9BD5", "#6CBE00", "#4F4F4F"]}, "legend": null},
       "shape": {"field": "s", "type": "nominal", "scale": {"domain": ["Flash", "situ1", "situ2", "situ3"], "range": ["triangle-up", "circle", "circle", "circle"]}, "legend": null}
     },
     "layer": [
       {"transform": [{"filter": "datum.s != 'Flash'"}], "mark": {"type": "point", "filled": true, "size": 90, "opacity": 1}},
       {"transform": [{"filter": "datum.s == 'Flash'"}], "mark": {"type": "point", "filled": true, "size": 150, "opacity": 1, "stroke": "#7a1c1c", "strokeWidth": 0.8}}
     ]},
    {"width": 262.5, "height": 202, "view": {"stroke": "#000", "strokeWidth": 3},
     "data": {"name": "pts"},
     "transform": [{"filter": "datum.e == 'POE C' && datum.i == 100"}],
     "encoding": {
       "x": {"field": "t", "type": "quantitative", "scale": {"type": "log", "domain": [0.00188, 264], "nice": false},
             "axis": {"values": [0.002,0.003,0.004,0.005,0.006,0.007,0.008,0.009,0.01,0.02,0.03,0.04,0.05,0.06,0.07,0.08,0.09,0.1,0.2,0.3,0.4,0.5,0.6,0.7,0.8,0.9,1,2,3,4,5,6,7,8,9,10,20,30,40,50,60,70,80,90,100,200],
                      "labelExpr": "datum.value == 0.01 ? '10⁻²' : datum.value == 0.1 ? '10⁻¹' : datum.value == 1 ? '10⁰' : datum.value == 10 ? '10¹' : datum.value == 100 ? '10²' : ''",
                      "tickSize": {"condition": {"test": "indexof([0.01,0.1,1,10,100], datum.value) >= 0", "value": 16}, "value": 8},
                      "tickWidth": 2, "tickColor": "#000", "domain": false, "labelFontSize": 25, "labelPadding": 15, "labelOverlap": false, "labelBound": false, "labelFlush": false,
                      "title": "Duration of voltage stress (h)", "titleFontSize": 33, "titleX": 262.5, "titleY": 100, "titleAlign": "center", "titleBaseline": "middle"}},
       "y": {"field": "v", "type": "quantitative", "scale": {"domain": [0.929, 1.0155], "nice": false, "zero": false}, "axis": null},
       "color": {"field": "s", "type": "nominal", "scale": {"domain": ["Flash", "situ1", "situ2", "situ3"], "range": ["#F23B3B", "#5B9BD5", "#6CBE00", "#4F4F4F"]}, "legend": null},
       "shape": {"field": "s", "type": "nominal", "scale": {"domain": ["Flash", "situ1", "situ2", "situ3"], "range": ["triangle-up", "circle", "circle", "circle"]}, "legend": null}
     },
     "layer": [
       {"transform": [{"filter": "datum.s != 'Flash'"}], "mark": {"type": "point", "filled": true, "size": 90, "opacity": 1}},
       {"transform": [{"filter": "datum.s == 'Flash'"}], "mark": {"type": "point", "filled": true, "size": 150, "opacity": 1, "stroke": "#7a1c1c", "strokeWidth": 0.8}}
     ]},
    {"width": 262.5, "height": 202, "view": {"stroke": "#000", "strokeWidth": 3},
     "data": {"name": "pts"},
     "transform": [{"filter": "datum.e == 'POE B' && datum.i == 100"}],
     "encoding": {
       "x": {"field": "t", "type": "quantitative", "scale": {"type": "log", "domain": [0.00188, 264], "nice": false},
             "axis": {"values": [0.002,0.003,0.004,0.005,0.006,0.007,0.008,0.009,0.01,0.02,0.03,0.04,0.05,0.06,0.07,0.08,0.09,0.1,0.2,0.3,0.4,0.5,0.6,0.7,0.8,0.9,1,2,3,4,5,6,7,8,9,10,20,30,40,50,60,70,80,90,100,200],
                      "labelExpr": "datum.value == 0.01 ? '10⁻²' : datum.value == 0.1 ? '10⁻¹' : datum.value == 1 ? '10⁰' : datum.value == 10 ? '10¹' : datum.value == 100 ? '10²' : ''",
                      "tickSize": {"condition": {"test": "indexof([0.01,0.1,1,10,100], datum.value) >= 0", "value": 16}, "value": 8},
                      "tickWidth": 2, "tickColor": "#000", "domain": false, "labelFontSize": 25, "labelPadding": 15, "labelOverlap": false, "labelBound": false, "labelFlush": false, "title": null}},
       "y": {"field": "v", "type": "quantitative", "scale": {"domain": [0.929, 1.0155], "nice": false, "zero": false}, "axis": null},
       "color": {"field": "s", "type": "nominal", "scale": {"domain": ["Flash", "situ1", "situ2", "situ3"], "range": ["#F23B3B", "#5B9BD5", "#6CBE00", "#4F4F4F"]}, "legend": null},
       "shape": {"field": "s", "type": "nominal", "scale": {"domain": ["Flash", "situ1", "situ2", "situ3"], "range": ["triangle-up", "circle", "circle", "circle"]}, "legend": null}
     },
     "layer": [
       {"transform": [{"filter": "datum.s != 'Flash'"}], "mark": {"type": "point", "filled": true, "size": 90, "opacity": 1}},
       {"transform": [{"filter": "datum.s == 'Flash'"}], "mark": {"type": "point", "filled": true, "size": 150, "opacity": 1, "stroke": "#7a1c1c", "strokeWidth": 0.8}}
     ]},
    {"width": 262.5, "height": 202, "view": {"stroke": "#000", "strokeWidth": 3},
     "data": {"name": "pts"},
     "transform": [{"filter": "datum.e == 'POE A' && datum.i == 100"}],
     "encoding": {
       "x": {"field": "t", "type": "quantitative", "scale": {"type": "log", "domain": [0.00188, 264], "nice": false},
             "axis": {"values": [0.002,0.003,0.004,0.005,0.006,0.007,0.008,0.009,0.01,0.02,0.03,0.04,0.05,0.06,0.07,0.08,0.09,0.1,0.2,0.3,0.4,0.5,0.6,0.7,0.8,0.9,1,2,3,4,5,6,7,8,9,10,20,30,40,50,60,70,80,90,100,200],
                      "labelExpr": "datum.value == 0.01 ? '10⁻²' : datum.value == 0.1 ? '10⁻¹' : datum.value == 1 ? '10⁰' : datum.value == 10 ? '10¹' : datum.value == 100 ? '10²' : ''",
                      "tickSize": {"condition": {"test": "indexof([0.01,0.1,1,10,100], datum.value) >= 0", "value": 16}, "value": 8},
                      "tickWidth": 2, "tickColor": "#000", "domain": false, "labelFontSize": 25, "labelPadding": 15, "labelOverlap": false, "labelBound": false, "labelFlush": false, "title": null}},
       "y": {"field": "v", "type": "quantitative", "scale": {"domain": [0.929, 1.0155], "nice": false, "zero": false},
             "axis": {"orient": "right", "labels": false, "ticks": false, "domain": false, "title": "Irradiance (W/m²)", "titleFontSize": 46, "titleAngle": 90, "titleX": 82, "titleY": 227, "titleAlign": "center", "titleBaseline": "middle"}},
       "color": {"field": "s", "type": "nominal", "scale": {"domain": ["Flash", "situ1", "situ2", "situ3"], "range": ["#F23B3B", "#5B9BD5", "#6CBE00", "#4F4F4F"]},
                 "legend": {"orient": "none", "legendX": 41, "legendY": 283, "title": null, "fillColor": "#c8c8c8", "padding": 12, "symbolSize": 100, "symbolStrokeWidth": 0, "labelFontSize": 27, "labelOffset": 2, "rowPadding": 10,
                            "labelExpr": "datum.label == 'Flash' ? '⠀ Flash' : datum.label == 'situ1' ? '⎫' : datum.label == 'situ2' ? '⎬ In situ' : '⎭'"}},
       "shape": {"field": "s", "type": "nominal", "scale": {"domain": ["Flash", "situ1", "situ2", "situ3"], "range": ["triangle-up", "circle", "circle", "circle"]},
                 "legend": {"orient": "none", "legendX": 41, "legendY": 283, "title": null, "fillColor": "#c8c8c8", "padding": 12, "symbolSize": 100, "symbolStrokeWidth": 0, "labelFontSize": 27, "labelOffset": 2, "rowPadding": 10,
                            "labelExpr": "datum.label == 'Flash' ? '⠀ Flash' : datum.label == 'situ1' ? '⎫' : datum.label == 'situ2' ? '⎬ In situ' : '⎭'"}}
     },
     "layer": [
       {"transform": [{"filter": "datum.s != 'Flash'"}], "mark": {"type": "point", "filled": true, "size": 90, "opacity": 1}},
       {"transform": [{"filter": "datum.s == 'Flash'"}], "mark": {"type": "point", "filled": true, "size": 150, "opacity": 1, "stroke": "#7a1c1c", "strokeWidth": 0.8}}
     ]},
    {"width": 40, "height": 202, "view": {"fill": "#c8c8c8", "stroke": "#000", "strokeWidth": 3},
     "data": {"values": [{"lab": "100"}]},
     "mark": {"type": "text", "fontSize": 20, "angle": 90, "color": "#111"},
     "encoding": {"text": {"field": "lab", "type": "nominal"}}}
  ]
}
